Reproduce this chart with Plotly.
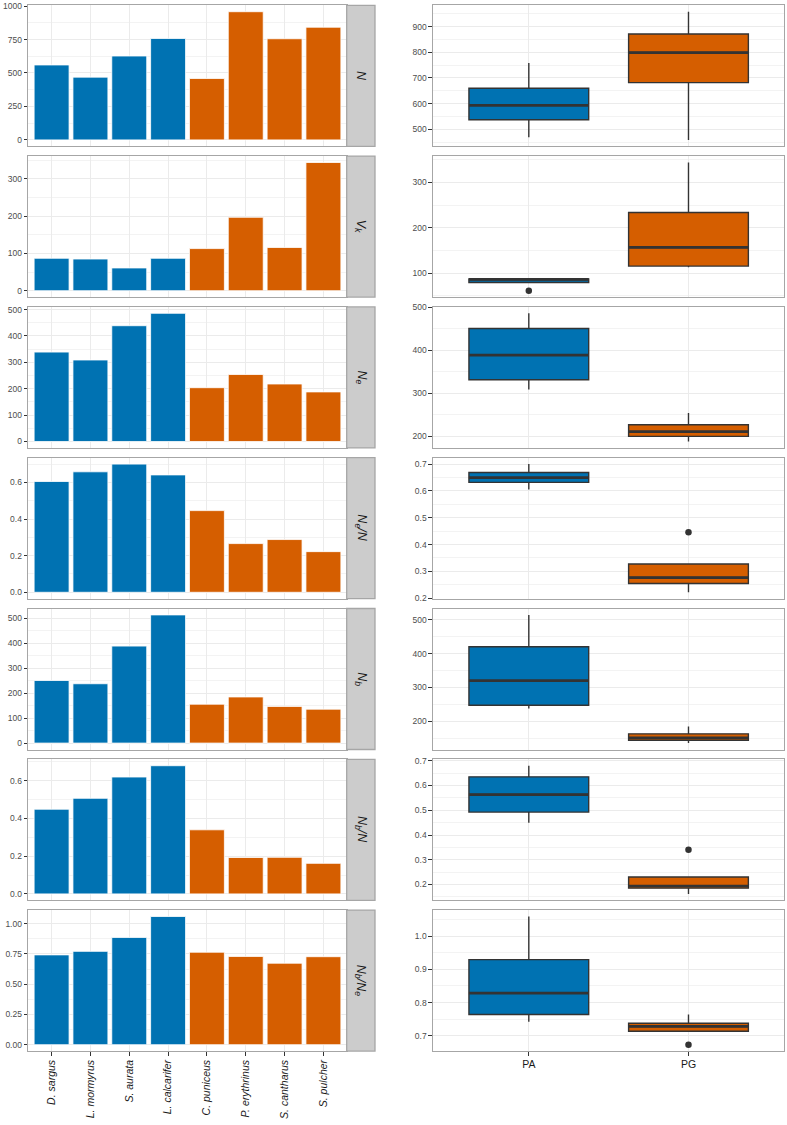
import numpy as np
import plotly.graph_objects as go

# ---------------- data ----------------
species = ["D. sargus", "L. mormyrus", "S. aurata", "L. calcarifer",
           "C. puniceus", "P. erythrinus", "S. cantharus", "S. pulcher"]
group = ["PA", "PA", "PA", "PA", "PG", "PG", "PG", "PG"]
groups = ["PA", "PG"]

N = [560, 469, 627, 758, 459, 958, 756, 842]
Vk = [87, 85, 61, 87, 113, 197, 116, 344]
Ne = [339, 309, 439, 486, 204, 254, 218, 188]
Ne_N = [0.605, 0.658, 0.700, 0.641, 0.446, 0.266, 0.288, 0.222]
Nb = [251, 238, 389, 514, 156, 185, 147, 136]
Nb_N = [0.449, 0.507, 0.620, 0.680, 0.340, 0.193, 0.194, 0.162]
Nb_Ne = [0.742, 0.771, 0.886, 1.059, 0.764, 0.729, 0.673, 0.727]

strip_labels = ["<i>N</i>", "<i>V</i><sub><i>k</i></sub>", "<i>N</i><sub><i>e</i></sub>",
                "<i>N</i><sub><i>e</i></sub><i>/N</i>", "<i>N</i><sub><i>b</i></sub>",
                "<i>N</i><sub><i>b</i></sub><i>/N</i>",
                "<i>N</i><sub><i>b</i></sub><i>/N</i><sub><i>e</i></sub>"]
series = [N, Vk, Ne, Ne_N, Nb, Nb_N, Nb_Ne]

left_ticks = [(250, "d"), (100, "d"), (100, "d"), (0.2, ".1f"), (100, "d"), (0.2, ".1f"), (0.25, ".2f")]
right_ticks = [(100, "d"), (100, "d"), (100, "d"), (0.1, ".1f"), (100, "d"), (0.1, ".1f"), (0.1, ".1f")]

colors = {"PA": "#0072B2", "PG": "#D55E00"}

# ---------------- geometry ----------------
W, H = 787, 1125
TOP0, STEP, PH = 5.3, 150.8, 141.0
LX0, LX1 = 28.3, 346.7
SX0, SX1 = 346.7, 375.0
RX0, RX1 = 433.0, 784.3

FONT = "Liberation Sans, Arial, sans-serif"
GRID = "#ebebeb"
BORDER = "#a6a6a6"
TICKC = "#333333"
LABC = "#4d4d4d"


def ydom(i):
    top = TOP0 + i * STEP
    return [1 - (top + PH) / H, 1 - top / H]


def box_stats(v):
    a = np.sort(np.asarray(v, dtype=float))
    q1, med, q3 = np.percentile(a, [25, 50, 75])
    iqr = q3 - q1
    lo, hi = q1 - 1.5 * iqr, q3 + 1.5 * iqr
    inside = a[(a >= lo) & (a <= hi)]
    out = a[(a < lo) | (a > hi)]
    return q1, med, q3, inside.min(), inside.max(), out


fig = go.Figure()
layout = {}
shapes = []
annotations = []

n = len(series)
for i, vals in enumerate(series):
    li = 2 * i + 1
    ri = 2 * i + 2
    lx = "x" if li == 1 else f"x{li}"
    ly = "y" if li == 1 else f"y{li}"
    rx, ry = f"x{ri}", f"y{ri}"
    last = (i == n - 1)

    # ---- left bar panel ----
    fig.add_trace(go.Bar(
        x=species, y=vals, xaxis=lx, yaxis=ly, width=0.9,
        marker=dict(color=[colors[g] for g in group], line=dict(color="white", width=0.8)),
        showlegend=False, hoverinfo="x+y"))
    m = max(vals)
    dt, fmt = left_ticks[i]
    layout["xaxis" if li == 1 else f"xaxis{li}"] = dict(
        domain=[LX0 / W, LX1 / W], anchor=ly, type="category",
        categoryorder="array", categoryarray=species, range=[-0.6, 7.6],
        showgrid=True, gridcolor=GRID, gridwidth=1, zeroline=False,
        showline=True, mirror=True, linecolor=BORDER, linewidth=1.3,
        ticks="outside" if last else "", ticklen=3.5, tickwidth=1, tickcolor=TICKC,
        showticklabels=last, tickangle=-90,
        tickfont=dict(family=FONT, size=10.5, color="#1a1a1a", style="italic"),
        automargin=False, fixedrange=True)
    layout["yaxis" if li == 1 else f"yaxis{li}"] = dict(
        domain=ydom(i), anchor=lx, range=[-0.05 * m, 1.05 * m],
        tick0=0, dtick=dt, tickformat=fmt,
        showgrid=True, gridcolor=GRID, gridwidth=1, zeroline=False,
        minor=dict(tick0=0, dtick=dt / 2, showgrid=True, gridcolor="#f3f3f3", gridwidth=0.6),
        showline=True, mirror=True, linecolor=BORDER, linewidth=1.3,
        ticks="outside", ticklen=3.5, tickwidth=1, tickcolor=TICKC,
        tickfont=dict(family=FONT, size=8.5, color=LABC),
        automargin=False, fixedrange=True)

    # strip
    d = ydom(i)
    shapes.append(dict(type="rect", xref="paper", yref="paper",
                       x0=SX0 / W, x1=SX1 / W, y0=d[0], y1=d[1],
                       fillcolor="#cccccc", line=dict(color=BORDER, width=1.3), layer="above"))
    annotations.append(dict(xref="paper", yref="paper", x=(SX0 + SX1) / 2 / W,
                            y=(d[0] + d[1]) / 2, text=strip_labels[i], showarrow=False,
                            textangle=90, font=dict(family=FONT, size=12.5, color="#1a1a1a"),
                            xanchor="center", yanchor="middle"))

    # ---- right box panel ----
    for k, g in enumerate(groups):
        gv = [v for v, gg in zip(vals, group) if gg == g]
        q1, med, q3, lw, uw, out = box_stats(gv)
        fig.add_trace(go.Box(
            x=[k], q1=[q1], median=[med], q3=[q3], lowerfence=[lw], upperfence=[uw],
            xaxis=rx, yaxis=ry, width=0.75, whiskerwidth=0, boxpoints=False,
            fillcolor=colors[g], line=dict(color="#333333", width=1.4),
            showlegend=False, name=g))
        fig.add_trace(go.Scatter(
            x=[k - 0.375, k + 0.375], y=[med, med], mode="lines", xaxis=rx, yaxis=ry,
            line=dict(color="#333333", width=2.8), showlegend=False, hoverinfo="skip"))
        if len(out):
            fig.add_trace(go.Scatter(
                x=[k] * len(out), y=list(out), mode="markers", xaxis=rx, yaxis=ry,
                marker=dict(color="#333333", size=6.5), showlegend=False))
    lo, hi = min(vals), max(vals)
    span = hi - lo
    dt, fmt = right_ticks[i]
    layout[f"xaxis{ri}"] = dict(
        domain=[RX0 / W, RX1 / W], anchor=ry, range=[-0.6, 1.6],
        tickmode="array", tickvals=[0, 1], ticktext=groups,
        showgrid=True, gridcolor=GRID, gridwidth=1, zeroline=False,
        showline=True, mirror=True, linecolor=BORDER, linewidth=1.3,
        ticks="outside" if last else "", ticklen=3.5, tickwidth=1, tickcolor=TICKC,
        showticklabels=last, tickfont=dict(family=FONT, size=10.5, color="#1a1a1a"),
        automargin=False, fixedrange=True)
    layout[f"yaxis{ri}"] = dict(
        domain=ydom(i), anchor=rx, range=[lo - 0.05 * span, hi + 0.05 * span],
        tick0=0, dtick=dt, tickformat=fmt,
        showgrid=True, gridcolor=GRID, gridwidth=1, zeroline=False,
        minor=dict(tick0=0, dtick=dt / 2, showgrid=True, gridcolor="#f3f3f3", gridwidth=0.6),
        showline=True, mirror=True, linecolor=BORDER, linewidth=1.3,
        ticks="outside", ticklen=3.5, tickwidth=1, tickcolor=TICKC,
        tickfont=dict(family=FONT, size=8.5, color=LABC),
        automargin=False, fixedrange=True)

fig.update_layout(
    width=W, height=H, template="none",
    margin=dict(l=0, r=0, t=0, b=0, autoexpand=False),
    paper_bgcolor="white", plot_bgcolor="white",
    showlegend=False, bargap=0.1, boxmode="overlay",
    shapes=shapes, annotations=annotations,
    font=dict(family=FONT, size=10, color="#1a1a1a"),
    **layout)

fig.write_html("out.html", config={"displayModeBar": False},
               post_script="document.body.style.margin='0px';document.body.style.overflow='hidden';")
